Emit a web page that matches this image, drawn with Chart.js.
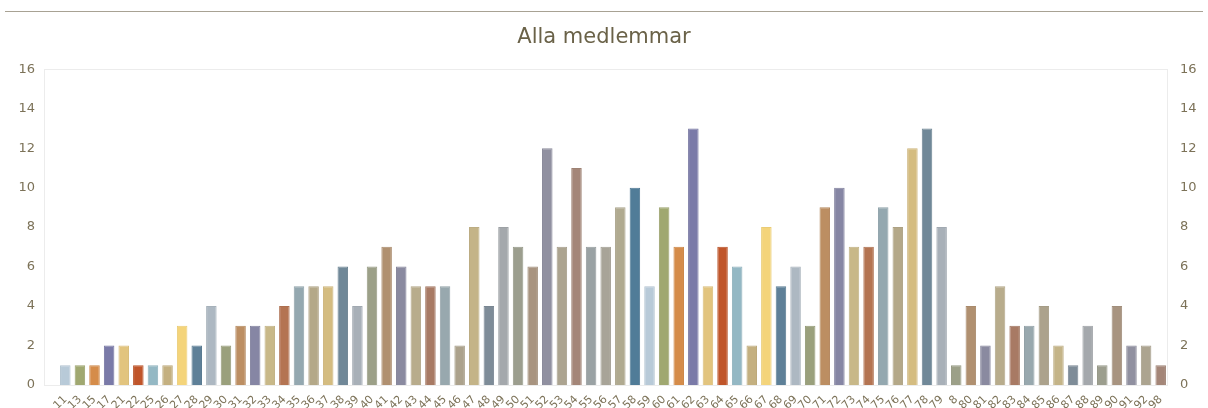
<!DOCTYPE html>
<html>
<head>
<meta charset="utf-8">
<script src="https://cdn.jsdelivr.net/npm/chart.js@4.4.1/dist/chart.umd.min.js"></script>
<style>
  html,body{margin:0;padding:0;background:#fff;}
  #wrap{position:relative;width:1208px;height:408px;overflow:hidden;}
  #topline{position:absolute;left:5px;top:11px;width:1198px;height:1px;background:#a8a294;}
  canvas{position:absolute;left:0;top:0;}
</style>
</head>
<body>
<div id="wrap">
  <canvas id="c" width="1208" height="408"></canvas>
  <div id="topline"></div>
</div>
<script>
const categories = ["11","13","15","17","21","22","25","26","27","28","29","30","31","32","33","34","35","36","37","38","39","40","41","42","43","44","45","46","47","48","49","50","51","52","53","54","55","56","57","58","59","60","61","62","63","64","65","66","67","68","69","70","71","72","73","74","75","76","77","78","79","8","80","81","82","83","84","85","86","87","88","89","90","91","92","98"];
const counts = [1,1,1,2,2,1,1,1,3,2,4,2,3,3,3,4,5,5,5,6,4,6,7,6,5,5,5,2,8,4,8,7,6,12,7,11,7,7,9,10,5,9,7,13,5,7,6,2,8,5,6,3,9,10,7,7,9,8,12,13,8,1,4,2,5,3,3,4,2,1,3,1,4,2,2,1];
const yTicks = [0,2,4,6,8,10,12,14,16];
const palette = ["#b8cad8","#a0a870","#d58c4a","#7a7aa8","#e2c47e","#c0552a","#94b8c4","#c4b080","#f4d47a","#5e8098",
                 "#adb8c2","#9aa07c","#bc8e62","#8686a4","#c8b888","#b47452","#94a8b0","#b4a888","#d4bc80","#708898",
                 "#a8b0b8","#9ca088","#b09070","#8a8aa0","#b8ac8c","#a87a64","#98a8ae","#aca28c","#c4b488","#7e8c98",
                 "#a4a8ac","#9c9e8e","#a89480","#9090a0","#aca490","#a48678","#9aa2a4","#a8a498","#b0aa90","#507c98"];

function shade(hex, f){
  const n=parseInt(hex.slice(1),16);
  const r=Math.round(((n>>16)&255)*f), g=Math.round(((n>>8)&255)*f), b=Math.round((n&255)*f);
  return "rgb("+r+","+g+","+b+")";
}
const fills = categories.map((c,i)=>palette[i%palette.length]);
const borders = fills.map(c=>shade(c,0.96));

const txt = "#7c7258";
const fontFam = "'DejaVu Sans', Verdana, sans-serif";

const frame = {
  id:'frame',
  beforeDatasetsDraw(chart){
    const a=chart.chartArea, ctx=chart.ctx;
    const l=Math.round(a.left)-14;
    ctx.save();
    ctx.strokeStyle="#ececec";
    ctx.lineWidth=1;
    ctx.strokeRect(l+0.5,Math.round(a.top)+0.5,Math.round(a.right)-l-1,Math.round(a.bottom-a.top));
    ctx.restore();
  }
};

new Chart(document.getElementById('c'),{
  type:'bar',
  data:{
    labels:categories,
    datasets:[{
      data:counts,
      backgroundColor:fills,
      borderColor:borders,
      borderWidth:1,
      barPercentage:0.72,
      categoryPercentage:1.0,
      yAxisID:'y'
    }]
  },
  plugins:[frame],
  options:{
    responsive:false,
    animation:false,
    layout:{padding:{left:0,right:0,top:0,bottom:0}},
    plugins:{
      legend:{display:false},
      tooltip:{enabled:false},
      title:{
        display:true,
        text:'Alla medlemmar',
        color:'#6a6248',
        font:{family:fontFam,size:21,weight:'normal'},
        padding:{top:25,bottom:19}
      }
    },
    scales:{
      x:{
        grid:{display:false},
        border:{display:false},
        ticks:{
          color:txt,
          font:{family:fontFam,size:11},
          minRotation:45,maxRotation:45,
          autoSkip:false,
          padding:0
        },
        afterFit(s){s.height=23;}
      },
      y:{
        position:'left',
        min:0,max:16,
        grid:{display:false},
        border:{display:false},
        ticks:{
          color:txt,
          font:{family:fontFam,size:13},
          stepSize:2,
          padding:15
        },
        afterBuildTicks(s){s.ticks=yTicks.map(v=>({value:v}));},
        afterFit(s){s.width=58;}
      },
      y2:{
        position:'right',
        min:0,max:16,
        grid:{display:false},
        border:{display:false},
        ticks:{
          color:txt,
          font:{family:fontFam,size:13},
          stepSize:2,
          padding:4
        },
        afterBuildTicks(s){s.ticks=yTicks.map(v=>({value:v}));},
        afterFit(s){s.width=40;}
      }
    }
  }
});
</script>
</body>
</html>
